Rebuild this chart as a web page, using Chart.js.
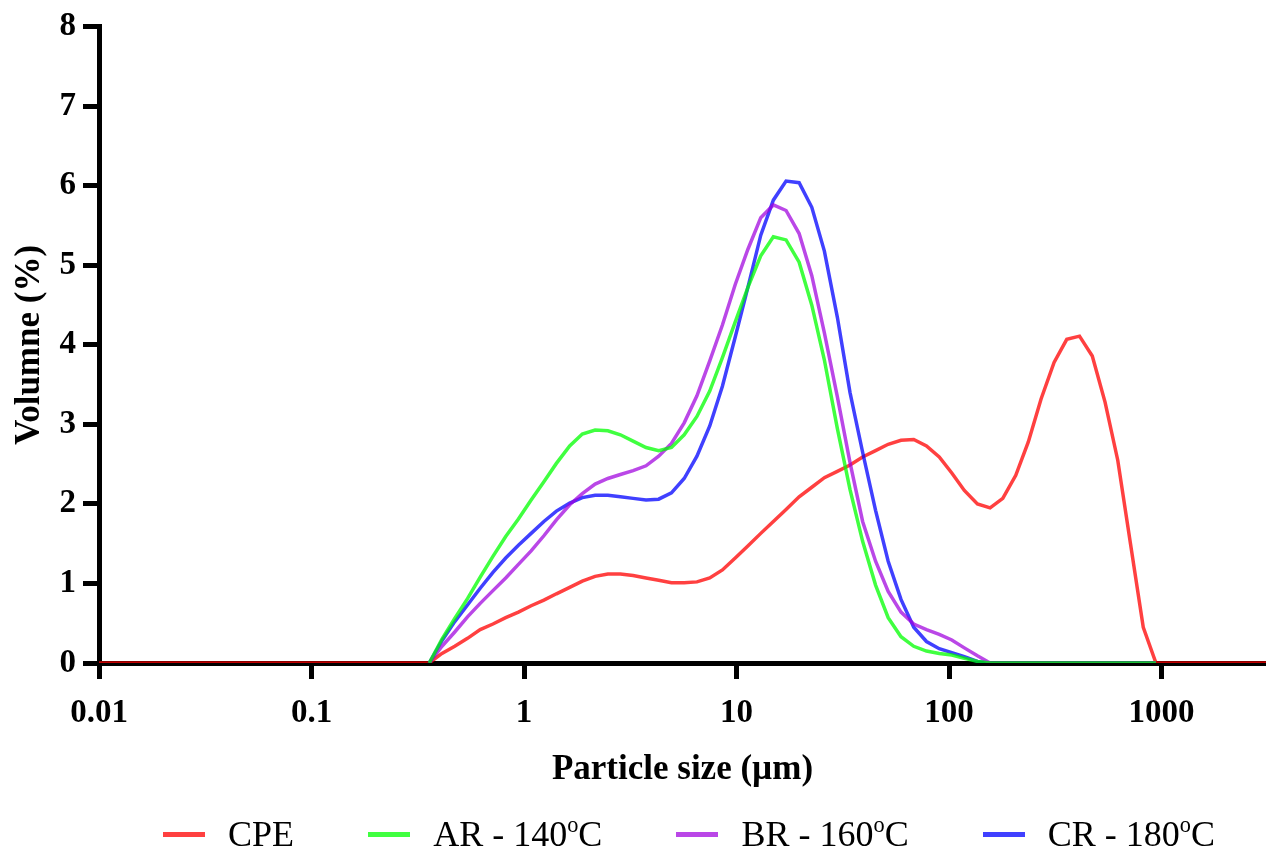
<!DOCTYPE html>
<html>
<head>
<meta charset="utf-8">
<title>Particle size distribution</title>
<script src="https://cdn.jsdelivr.net/npm/chart.js"></script>
<style>
  html, body { margin: 0; padding: 0; background: #fff; }
  #wrap { position: relative; width: 1266px; height: 859px; }
  #legend {
    position: absolute; left: 163px; width: 1052px; top: 814px; height: 40px;
    display: flex; justify-content: space-between; align-items: center;
    font-family: 'Liberation Serif', 'Times New Roman', serif; font-size: 36px; color: #000;
  }
  .item { display: flex; align-items: center; white-space: nowrap; }
  .swatch { display: inline-block; width: 42px; height: 5px; margin-right: 23px; }
  sup { font-size: 0.62em; vertical-align: 0.62em; line-height: 0; }
</style>
</head>
<body>
<div id="wrap">
  <canvas id="psdChart" width="1266" height="859"></canvas>
  <div id="legend"></div>
</div>
<script>
// particle size classes (µm), log spaced
const sizes = [
  0.01, 0.358, 0.411, 0.472, 0.542, 0.622, 0.714, 0.820, 0.941, 1.08,
  1.24, 1.42, 1.64, 1.88, 2.16, 2.48, 2.84, 3.26, 3.75, 4.30,
  4.94, 5.67, 6.51, 7.48, 8.58, 9.86, 11.3, 13.0, 14.9, 17.1,
  19.7, 22.6, 25.9, 29.8, 34.2, 39.2, 45.1, 51.7, 59.4, 68.2,
  78.3, 89.9, 103, 118, 136, 156, 179, 206, 236, 271,
  312, 358, 411, 472, 542, 622, 714, 820, 941, 3100
];

// volume (%) per class
const cpe = [
  0, 0, 0.12, 0.21, 0.31, 0.42, 0.49, 0.57, 0.64, 0.72,
  0.79, 0.87, 0.95, 1.03, 1.09, 1.12, 1.12, 1.10, 1.07, 1.04,
  1.01, 1.01, 1.02, 1.07, 1.17, 1.32, 1.47, 1.63, 1.78, 1.93,
  2.09, 2.21, 2.33, 2.41, 2.49, 2.59, 2.67, 2.75, 2.80, 2.81,
  2.73, 2.59, 2.39, 2.17, 2.00, 1.95, 2.07, 2.36, 2.78, 3.32,
  3.78, 4.07, 4.11, 3.86, 3.28, 2.55, 1.50, 0.45, 0, 0
];
const ar = [
  null, 0, 0.30, 0.56, 0.81, 1.08, 1.34, 1.59, 1.81, 2.05,
  2.28, 2.51, 2.73, 2.88, 2.93, 2.92, 2.87, 2.79, 2.71, 2.67,
  2.71, 2.87, 3.10, 3.42, 3.84, 4.29, 4.72, 5.12, 5.36, 5.32,
  5.04, 4.50, 3.81, 2.95, 2.18, 1.53, 0.98, 0.57, 0.33, 0.21,
  0.15, 0.12, 0.10, 0.06, 0.02, 0, 0, 0, 0, 0,
  0, 0, 0, 0, 0, 0, 0, 0, 0, null
];
const br = [
  null, 0, 0.21, 0.39, 0.58, 0.75, 0.91, 1.07, 1.24, 1.41,
  1.60, 1.80, 1.99, 2.13, 2.25, 2.32, 2.37, 2.42, 2.48, 2.60,
  2.76, 3.02, 3.36, 3.80, 4.25, 4.76, 5.20, 5.60, 5.76, 5.69,
  5.40, 4.87, 4.15, 3.35, 2.52, 1.78, 1.28, 0.90, 0.64, 0.49,
  0.42, 0.36, 0.29, 0.19, 0.09, 0, 0, 0, 0, 0,
  0, 0, 0, 0, 0, 0, 0, 0, 0, null
];
const cr = [
  null, 0, 0.28, 0.52, 0.73, 0.94, 1.14, 1.32, 1.48, 1.63,
  1.78, 1.91, 2.01, 2.08, 2.11, 2.11, 2.09, 2.07, 2.05, 2.06,
  2.14, 2.32, 2.60, 2.98, 3.48, 4.10, 4.72, 5.38, 5.82, 6.06,
  6.04, 5.73, 5.18, 4.35, 3.40, 2.65, 1.92, 1.28, 0.80, 0.45,
  0.27, 0.18, 0.13, 0.08, 0.02, 0, 0, 0, 0, 0,
  0, 0, 0, 0, 0, 0, 0, 0, 0, null
];

const seriesNames = ['CPE', 'AR - 140°C', 'BR - 160°C', 'CR - 180°C'];
const seriesColors = ['rgba(255, 0, 0, 0.75)', 'rgba(0, 255, 0, 0.75)', 'rgba(160, 0, 222, 0.72)', 'rgba(0, 0, 255, 0.75)'];
const seriesOrder = [3, 0, 1, 2]; // green on top, red underneath
const xTicks = [0.01, 0.1, 1, 10, 100, 1000];

Chart.defaults.font.family = "'Liberation Serif', 'Times New Roman', serif";
Chart.defaults.color = '#000';

const toPoints = (vals) => sizes.map((s, i) => ({ x: s, y: vals[i] }));

const datasets = [cpe, ar, br, cr].map((vals, i) => ({
  label: seriesNames[i],
  data: toPoints(vals),
  borderColor: seriesColors[i],
  backgroundColor: seriesColors[i],
  order: seriesOrder[i],
  spanGaps: false
}));

const axisLine = { color: '#000', width: 5 };
const tickGrid = { drawOnChartArea: false, tickLength: 16, tickWidth: 5, tickColor: '#000' };

const chart = new Chart(document.getElementById('psdChart').getContext('2d'), {
  type: 'line',
  data: { datasets },
  options: {
    responsive: false,
    animation: false,
    layout: { padding: { top: 20, right: 0, bottom: 66, left: 0 } },
    plugins: {
      legend: { display: false },
      tooltip: { enabled: false }
    },
    elements: {
      point: { radius: 0 },
      line: { borderWidth: 3.5, tension: 0 }
    },
    scales: {
      x: {
        type: 'logarithmic',
        min: 0.01,
        max: 3100,
        afterBuildTicks: (s) => { s.ticks = xTicks.map(v => ({ value: v })); },
        afterFit: (s) => { s.height = 130; },
        border: axisLine,
        grid: tickGrid,
        ticks: {
          autoSkip: false,
          maxRotation: 0,
          padding: 15,
          font: { size: 33, weight: 'bold' },
          callback: (v) => String(v)
        },
        title: {
          display: true,
          text: 'Particle size (µm)',
          font: { size: 35, weight: 'bold' },
          padding: { top: 0, bottom: 2 }
        }
      },
      y: {
        min: 0,
        max: 8,
        afterFit: (s) => { s.width = 99; },
        border: axisLine,
        grid: tickGrid,
        ticks: {
          stepSize: 1,
          padding: 7,
          font: { size: 33, weight: 'bold' }
        },
        title: {
          display: true,
          text: 'Volumne (%)',
          font: { size: 35, weight: 'bold' },
          padding: { top: 9, bottom: 0 }
        }
      }
    }
  }
});

// html legend, built from the chart's datasets
const legendEl = document.getElementById('legend');
chart.data.datasets.forEach((ds) => {
  const item = document.createElement('div');
  item.className = 'item';
  const sw = document.createElement('span');
  sw.className = 'swatch';
  sw.style.background = ds.borderColor;
  const txt = document.createElement('span');
  txt.innerHTML = ds.label.replace('°', '<sup>o</sup>');
  item.appendChild(sw);
  item.appendChild(txt);
  legendEl.appendChild(item);
});
</script>
</body>
</html>
